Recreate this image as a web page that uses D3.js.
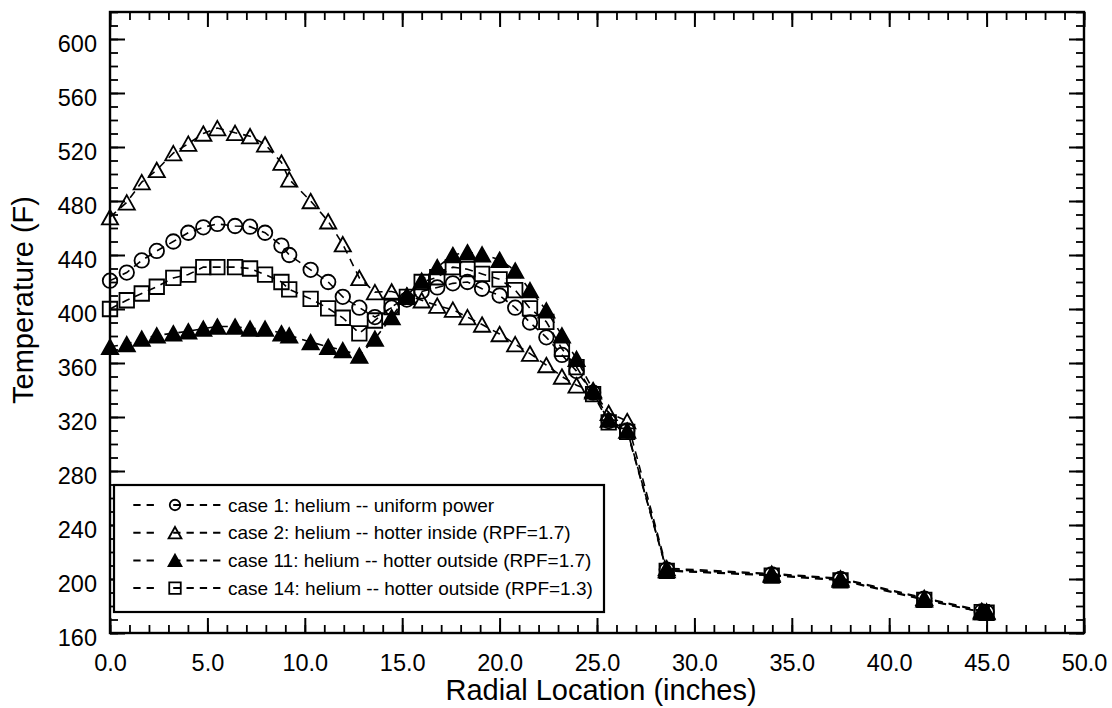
<!DOCTYPE html>
<html><head><meta charset="utf-8">
<script src="https://cdn.jsdelivr.net/npm/d3@7"></script>
<style>body{margin:0;background:#fff}svg{display:block}text{font-family:"Liberation Sans",Arial,sans-serif;fill:#000}</style>
</head><body><svg id="c" width="1112" height="708"></svg>
<script>
// Radial locations (inches), shared by all cases
const radial = [0, 0.86, 1.63, 2.4, 3.25, 4.02, 4.79, 5.51, 6.42, 7.19, 7.96, 8.8, 9.2, 10.3, 11.2, 11.95, 12.8, 13.6, 14.46, 15.24, 16.0, 16.8, 17.6, 18.35, 19.1, 20.0, 20.8, 21.56, 22.4, 23.2, 23.95, 24.8, 25.6, 26.55, 28.58, 33.97, 37.5, 41.8, 44.75, 45.0];
const case1 = [421, 427, 436, 443, 450, 456.5, 460.5, 463, 461.5, 461, 456.5, 447, 440, 429, 420, 409, 401, 394, 401, 407, 413, 416, 419, 420, 415, 410, 401, 390, 379, 366, 354, 338, 317, 310, 207, 203.5, 200, 185.5, 176, 175.5];
const case2 = [468, 479, 494, 503, 515.5, 522.5, 530, 534, 530.5, 528, 522, 508.5, 496, 480, 465, 448, 423, 412.5, 413, 410, 406.5, 402.5, 399.5, 394, 388.5, 381.5, 374, 367, 358.5, 350, 343.5, 339, 323, 317, 208, 204, 200.5, 186, 176.5, 176];
const case11 = [372, 374, 378, 380.5, 382, 383.5, 385.5, 387, 387, 385.5, 385.5, 382, 380.5, 375.5, 372, 369.5, 365.5, 378, 394, 410, 421, 431, 440, 442, 440.5, 436.5, 428.5, 414, 399, 380.5, 363, 340, 318, 310, 206.5, 203, 199.5, 185, 175.5, 175.5];
const case14 = [400, 406.5, 411.5, 416.5, 423, 425.5, 431, 431, 431, 430, 425.5, 420, 414.5, 407.5, 400.5, 393.5, 382, 391.5, 401.5, 409, 420, 423.5, 431, 429.5, 426, 422, 414, 400.5, 390.5, 370.5, 357, 337, 316, 309, 206, 202.5, 199, 184.5, 175.5, 175];
const seriesNames = ["case 1: helium -- uniform power", "case 2: helium -- hotter inside (RPF=1.7)", "case 11: helium -- hotter outside (RPF=1.7)", "case 14: helium -- hotter outside (RPF=1.3)"];
const seriesMarkers = ["circle", "triangleOpen", "triangleFilled", "square"];
const xTicks = [0, 5, 10, 15, 20, 25, 30, 35, 40, 45, 50];
const yTicks = [160, 200, 240, 280, 320, 360, 400, 440, 480, 520, 560, 600];

const allSeries = [case1, case2, case11, case14];
const svg = d3.select("#c");
const L = 110, R = 1084, T = 12, B = 633;
const x = d3.scaleLinear([0, 50], [L, R]);
const y = d3.scaleLinear([160, 620], [B, T]);

function markerPath(type, s) {
  if (type === "square") return `M${-s/2},${-s/2}h${s}v${s}h${-s}Z`;
  const w = s * 1.12, h = s;
  return `M0,${-h/2}L${w/2},${h/2}L${-w/2},${h/2}Z`;
}
function drawMarker(g, type, cx, cy, s) {
  if (type === "circle") {
    g.append("circle").attr("cx", cx).attr("cy", cy).attr("r", s/2)
      .attr("fill", "none").attr("stroke", "#000").attr("stroke-width", 1.8);
  } else {
    g.append("path").attr("d", markerPath(type, s)).attr("transform", `translate(${cx},${cy})`)
      .attr("fill", type === "triangleFilled" ? "#000" : "none")
      .attr("stroke", "#000").attr("stroke-width", 1.8).attr("stroke-linejoin", "miter");
  }
}

// Axes ticks (inward)
const minorX = d3.range(0, 51, 1), minorY = d3.range(160, 621, 10);
function axes(gen, scale, major, minor, tr, fmt, labels) {
  const gM = svg.append("g").attr("transform", tr)
    .call(gen(scale).tickValues(minor).tickSize(-8).tickFormat(""));
  gM.select(".domain").remove();
  gM.selectAll("line").attr("stroke-width", 1.8);
  const g = svg.append("g").attr("transform", tr)
    .call(gen(scale).tickValues(major).tickSize(-15).tickPadding(labels ? 13 : 0).tickFormat(labels ? fmt : ""));
  g.select(".domain").remove();
  g.selectAll("line").attr("stroke-width", 2);
  g.selectAll("text").style("font-size", "23.5px").attr("fill", "#000");
  return g;
}
const gx = axes(d3.axisBottom, x, xTicks, minorX, `translate(0,${B})`, d3.format(".1f"), true);
gx.selectAll("text").attr("y", 21);
axes(d3.axisTop, x, xTicks, minorX, `translate(0,${T})`, null, false);
const gy = axes(d3.axisLeft, y, yTicks, minorY, `translate(${L},0)`, d3.format("d"), true);
gy.selectAll("text").attr("dy", "0.52em");
axes(d3.axisRight, y, yTicks, minorY, `translate(${R},0)`, null, false);

// Lines
const line = d3.line().x((d, i) => x(radial[i])).y(d => y(d));
allSeries.forEach(s => {
  svg.append("path").datum(s).attr("d", line).attr("fill", "none")
    .attr("stroke", "#000").attr("stroke-width", 1.6).attr("stroke-dasharray", "8,6");
});
// Markers
allSeries.forEach((s, k) => {
  const g = svg.append("g");
  s.forEach((v, i) => drawMarker(g, seriesMarkers[k], x(radial[i]), y(v), 14.5));
});

// Frame
svg.append("rect").attr("x", L).attr("y", T).attr("width", R - L).attr("height", B - T)
  .attr("fill", "none").attr("stroke", "#000").attr("stroke-width", 2.4);

// Legend
const lg = svg.append("g");
lg.append("rect").attr("x", 114).attr("y", 485).attr("width", 490).attr("height", 127)
  .attr("fill", "#fff").attr("stroke", "#000").attr("stroke-width", 2.2);
seriesNames.forEach((name, k) => {
  const ry = 505 + k * 27.7;
  lg.append("line").attr("x1", 133.3).attr("x2", 221).attr("y1", ry).attr("y2", ry)
    .attr("stroke", "#000").attr("stroke-width", 2)
    .attr("stroke-dasharray", "7.3,6,7.3,19.3,7.3,6,7.3,6,7.3,6,7.3");
  drawMarker(lg, seriesMarkers[k], 175, ry, seriesMarkers[k] === "circle" ? 10.5 : 11.5);
  lg.append("text").attr("x", 228).attr("y", ry).attr("dy", "0.35em")
    .style("font-size", "19px").text(name);
});

// Axis titles
svg.append("text").attr("x", 601).attr("y", 700)
  .attr("text-anchor", "middle").style("font-size", "29px").text("Radial Location (inches)");
svg.append("text").attr("transform", `translate(33,300) rotate(-90)`)
  .attr("text-anchor", "middle").style("font-size", "29px").text("Temperature (F)");
</script></body></html>
